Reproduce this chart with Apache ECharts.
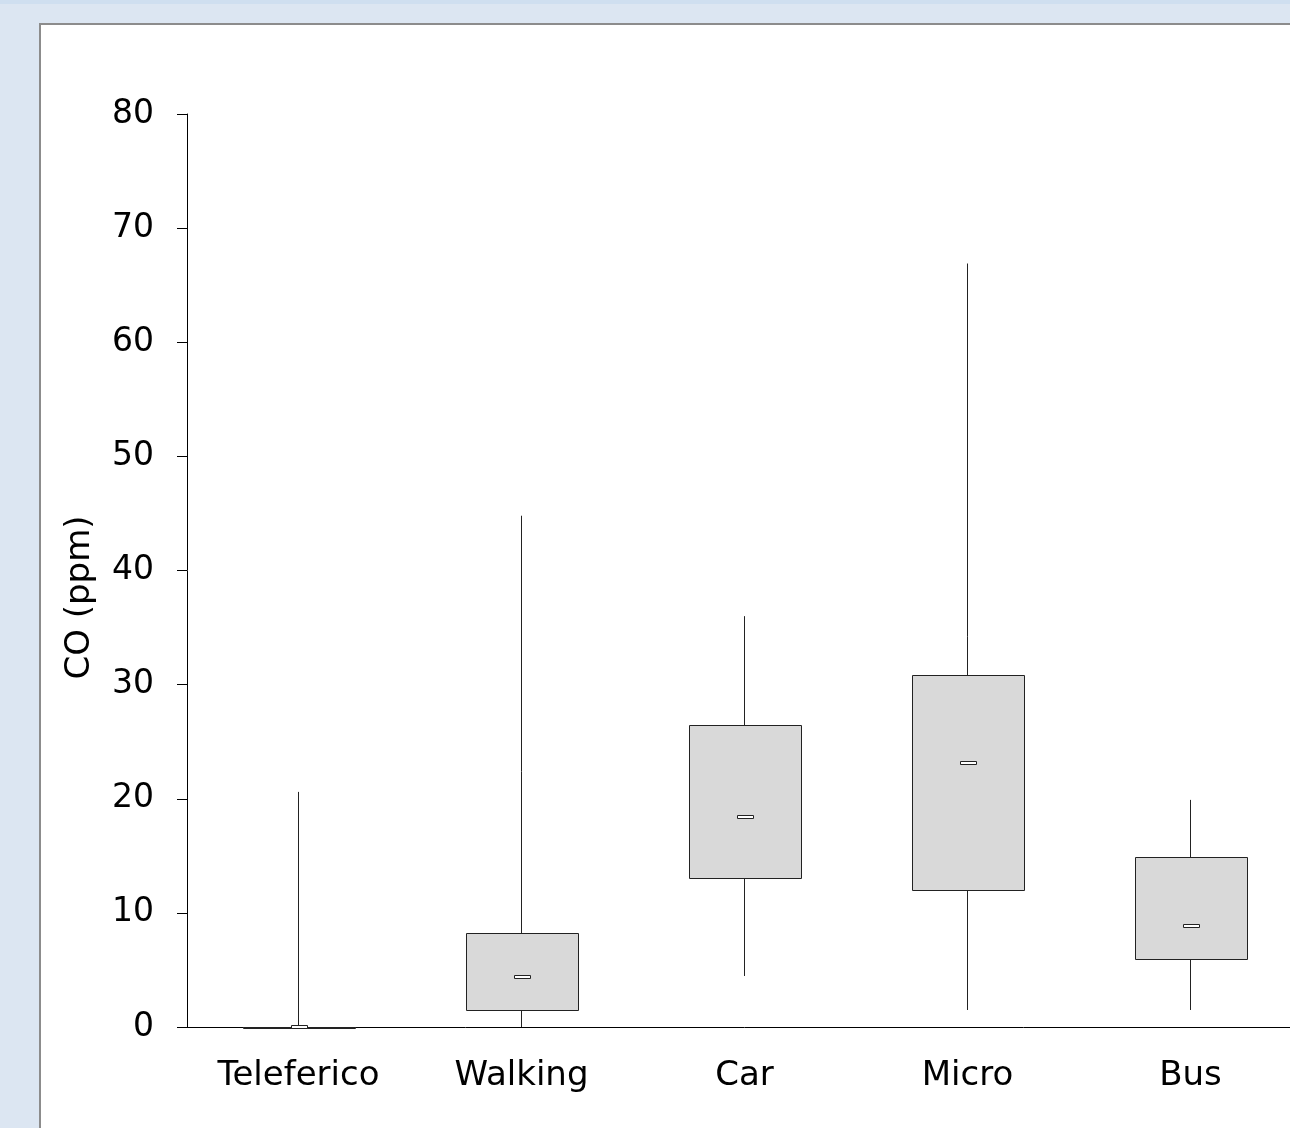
<!DOCTYPE html>
<html><head><meta charset="utf-8">
<script src="https://cdn.jsdelivr.net/npm/echarts@6/dist/echarts.min.js"></script>
<style>html,body{margin:0;padding:0;overflow:hidden;background:#dce6f2;}#c{width:1302px;height:1128px;}</style>
</head><body><div id="c"></div>
<script>
const categories = ['Teleferico','Walking','Car','Micro','Bus'];
const mins    = [0,    0,    4.47, 1.49, 1.49];
const q1s     = [0,    1.49, 13.06,12.0, 5.96];
const medians = [0,    4.38, 18.4, 23.1, 8.85];
const q3s     = [0,    8.24, 26.5, 30.85,14.9];
const maxs    = [20.6, 44.8, 36.0, 66.9, 19.9];
const yTicks  = [0,10,20,30,40,50,60,70,80];

const font = '"DejaVu Sans", Verdana, sans-serif';
const data = categories.map((c,i)=>[i, mins[i], q1s[i], medians[i], q3s[i], maxs[i]]);
const chart = echarts.init(document.getElementById('c'));
chart.setOption({
  animation:false,
  backgroundColor:'#dce6f2',
  graphic:[
    {type:'rect', z:-10, shape:{x:0,y:0,width:1302,height:4}, style:{fill:'#cfdff0'}},
    {type:'rect', z:-10, shape:{x:40,y:24,width:1400,height:1200}, style:{fill:'#ffffff', stroke:'#8c8c8c', lineWidth:2}}
  ],
  grid:{left:187, top:114, bottom:101, right:0, containLabel:false},
  xAxis:{type:'category', data:categories,
    axisLine:{lineStyle:{color:'#000', width:1}}, axisTick:{show:false},
    axisLabel:{color:'#000', fontSize:34, fontFamily:font, margin:32}},
  yAxis:{type:'value', min:0, max:80, interval:10,
    name:'CO (ppm)', nameLocation:'middle', nameGap:90, nameRotate:90,
    nameTextStyle:{color:'#000', fontSize:34, fontFamily:font, padding:[0,54,0,0]},
    axisLine:{show:true, lineStyle:{color:'#000', width:1}},
    axisTick:{show:true, length:10, lineStyle:{color:'#000'}},
    splitLine:{show:false},
    axisLabel:{color:'#000', fontSize:33, fontFamily:font, margin:33, padding:[5,0,0,0],
      formatter:v=>yTicks.includes(v)?String(v):''}},
  series:[{
    type:'custom', data:data, encode:{x:0, y:[1,2,3,4,5]},
    renderItem:function(params, api){
      const x = api.value(0);
      const pMin = api.coord([x, api.value(1)]);
      const pQ1 = api.coord([x, api.value(2)]);
      const pMed = api.coord([x, api.value(3)]);
      const pQ3 = api.coord([x, api.value(4)]);
      const pMax = api.coord([x, api.value(5)]);
      const w = api.size([1,0])[0]*0.5;
      const cx = Math.floor(pMin[0])+0.5;
      const children = [
        {type:'line', shape:{x1:cx,y1:pMin[1],x2:cx,y2:pMax[1]}, style:{stroke:'#222', lineWidth:1}},
        {type:'rect', shape:{x:Math.round(cx-w/2)+0.5, y:Math.round(pQ3[1])+0.5, width:Math.round(w), height:Math.max(Math.round(pQ1[1]-pQ3[1]),1)}, style:{fill:'#d9d9d9', stroke:'#222', lineWidth:1}},
        {type:'rect', shape:{x:Math.round(cx-8)+0.5, y:Math.round(pMed[1]-2)+0.5, width:16, height:3}, style:{fill:'#ffffff', stroke:'#222', lineWidth:1}}
      ];
      return {type:'group', children:children};
    }
  }]
});
</script></body></html>
